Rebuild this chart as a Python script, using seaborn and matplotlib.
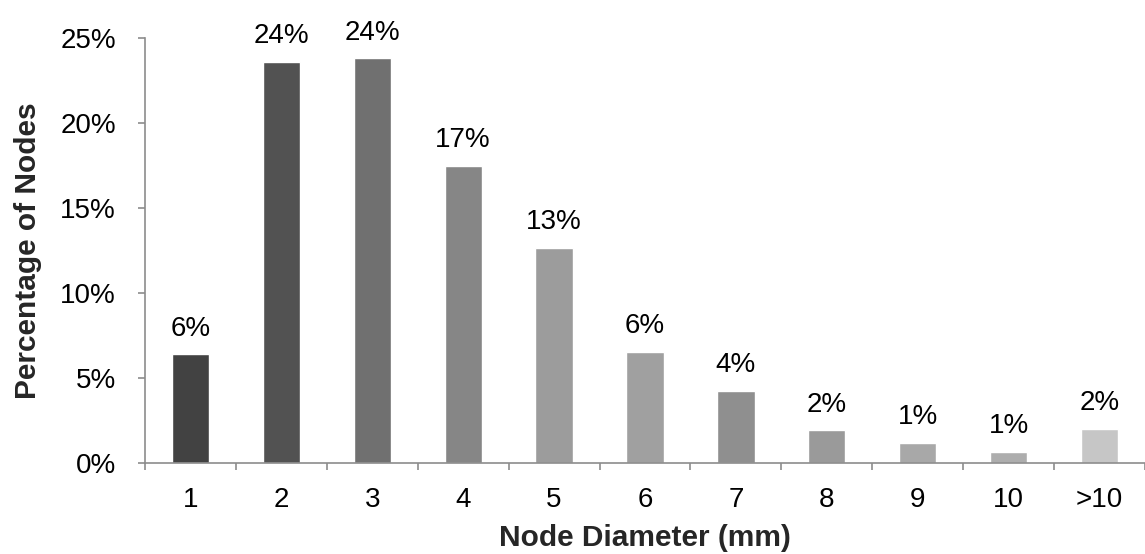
import matplotlib
matplotlib.use("Agg")
import matplotlib.pyplot as plt
import seaborn as sns
import pandas as pd
import numpy as np
from matplotlib.ticker import FixedLocator, PercentFormatter

categories = ["1", "2", "3", "4", "5", "6", "7", "8", "9", "10", ">10"]
values = [6.4, 23.6, 23.8, 17.5, 12.65, 6.55, 4.25, 1.94, 1.18, 0.65, 2.0]
labels = ["6%", "24%", "24%", "17%", "13%", "6%", "4%", "2%", "1%", "1%", "2%"]
colors = ["#424242", "#525252", "#707070", "#868686", "#9c9c9c", "#a0a0a0",
          "#8f8f8f", "#9a9a9a", "#a8a8a8", "#adadad", "#c6c6c6"]

sns.set_style("white")
plt.rcParams["font.family"] = ["Liberation Sans", "DejaVu Sans"]

df = pd.DataFrame({"cat": categories, "val": values})

fig = plt.figure(figsize=(11.45, 5.54), dpi=100)
ax = fig.add_axes([145 / 1145, (554 - 463) / 554, (1145 - 145) / 1145, (463 - 38) / 554])

sns.barplot(data=df, x="cat", y="val", hue="cat", palette=colors, legend=False,
            width=0.41, ax=ax, saturation=1, order=categories)

for i, (v, t) in enumerate(zip(values, labels)):
    ax.annotate(t, (i, v), xytext=(0, 9), textcoords="offset points",
                ha="center", va="bottom", fontsize=20, color="#000000")

ax.set_ylim(0, 25)
ax.set_xlim(-0.5, 10.5)
ax.set_yticks([0, 5, 10, 15, 20, 25])
ax.yaxis.set_major_formatter(PercentFormatter(decimals=0))

ax.xaxis.set_minor_locator(FixedLocator(np.arange(-0.5, 11, 1.0)))
ax.tick_params(axis="x", which="major", length=0, pad=17, labelsize=20, colors="#000000")
ax.tick_params(axis="x", which="minor", length=5, width=1.2, color="#8c8c8c", direction="out", bottom=True)
ax.tick_params(axis="y", which="major", length=5, width=1.2, color="#8c8c8c", direction="out", left=True,
               pad=16, labelsize=20, labelcolor="#000000")

for s in ["top", "right"]:
    ax.spines[s].set_visible(False)
for s in ["left", "bottom"]:
    ax.spines[s].set_color("#8c8c8c")
    ax.spines[s].set_linewidth(1.2)

ax.set_xlabel("Node Diameter (mm)", fontsize=21.5, fontweight="bold", labelpad=8)
ax.set_ylabel("Percentage of Nodes", fontsize=21.5, fontweight="bold", labelpad=13)

fig.savefig("out.png", dpi=100)
